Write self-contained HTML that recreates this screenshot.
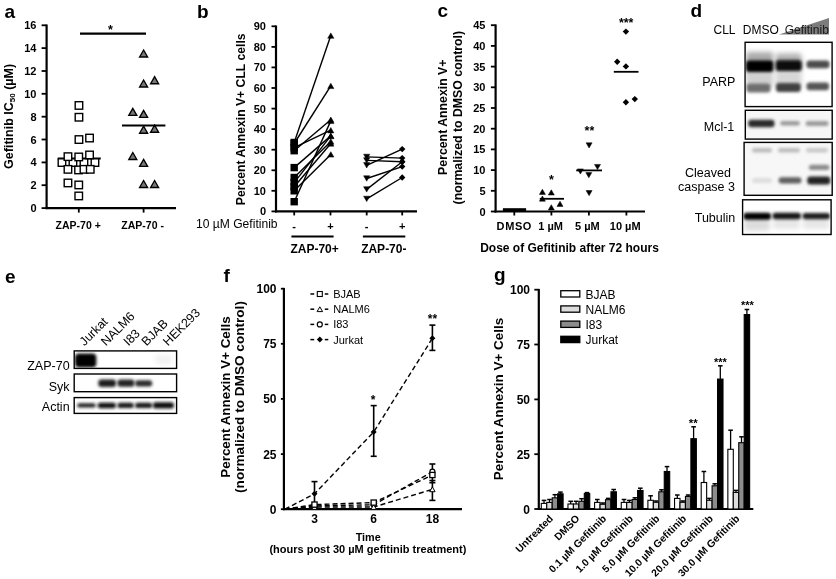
<!DOCTYPE html>
<html><head><meta charset="utf-8"><style>
html,body{margin:0;padding:0;background:#fff;}
svg{display:block;will-change:transform;}
text{font-family:"Liberation Sans", sans-serif;}
</style></head><body>
<svg width="836" height="579" viewBox="0 0 836 579" font-family='"Liberation Sans", sans-serif'>
<defs><filter id="bl" x="-30%" y="-80%" width="160%" height="260%"><feGaussianBlur stdDeviation="1.5"/></filter><filter id="bl2" x="-30%" y="-60%" width="160%" height="220%"><feGaussianBlur stdDeviation="2.5"/></filter></defs>
<rect width="836" height="579" fill="#fff"/>
<text x="4.5" y="17.5" font-size="19" font-weight="bold" text-anchor="start" fill="#000" >a</text>
<line x1="46.6" y1="24.5" x2="46.6" y2="209.1" stroke="#000" stroke-width="2.2" />
<line x1="41.6" y1="208.1" x2="46.6" y2="208.1" stroke="#000" stroke-width="1.8" />
<text x="36.5" y="212.1" font-size="11" font-weight="bold" text-anchor="end" fill="#000" >0</text>
<line x1="41.6" y1="185.2" x2="46.6" y2="185.2" stroke="#000" stroke-width="1.8" />
<text x="36.5" y="189.2" font-size="11" font-weight="bold" text-anchor="end" fill="#000" >2</text>
<line x1="41.6" y1="162.4" x2="46.6" y2="162.4" stroke="#000" stroke-width="1.8" />
<text x="36.5" y="166.4" font-size="11" font-weight="bold" text-anchor="end" fill="#000" >4</text>
<line x1="41.6" y1="139.5" x2="46.6" y2="139.5" stroke="#000" stroke-width="1.8" />
<text x="36.5" y="143.5" font-size="11" font-weight="bold" text-anchor="end" fill="#000" >6</text>
<line x1="41.6" y1="116.7" x2="46.6" y2="116.7" stroke="#000" stroke-width="1.8" />
<text x="36.5" y="120.7" font-size="11" font-weight="bold" text-anchor="end" fill="#000" >8</text>
<line x1="41.6" y1="93.8" x2="46.6" y2="93.8" stroke="#000" stroke-width="1.8" />
<text x="36.5" y="97.8" font-size="11" font-weight="bold" text-anchor="end" fill="#000" >10</text>
<line x1="41.6" y1="71.0" x2="46.6" y2="71.0" stroke="#000" stroke-width="1.8" />
<text x="36.5" y="75.0" font-size="11" font-weight="bold" text-anchor="end" fill="#000" >12</text>
<line x1="41.6" y1="48.1" x2="46.6" y2="48.1" stroke="#000" stroke-width="1.8" />
<text x="36.5" y="52.1" font-size="11" font-weight="bold" text-anchor="end" fill="#000" >14</text>
<line x1="41.6" y1="25.3" x2="46.6" y2="25.3" stroke="#000" stroke-width="1.8" />
<text x="36.5" y="29.3" font-size="11" font-weight="bold" text-anchor="end" fill="#000" >16</text>
<line x1="45.6" y1="208.1" x2="176.0" y2="208.1" stroke="#000" stroke-width="2.2" />
<line x1="78.8" y1="208.1" x2="78.8" y2="212.6" stroke="#000" stroke-width="1.8" />
<line x1="143.6" y1="208.1" x2="143.6" y2="212.6" stroke="#000" stroke-width="1.8" />
<text x="78.2" y="228.5" font-size="10.5" font-weight="bold" text-anchor="middle" fill="#000" >ZAP-70 +</text>
<text x="142.6" y="228.5" font-size="10.5" font-weight="bold" text-anchor="middle" fill="#000" >ZAP-70 -</text>
<line x1="80.0" y1="33.6" x2="146.0" y2="33.6" stroke="#000" stroke-width="2.2" />
<text x="110.5" y="34.0" font-size="12.5" font-weight="bold" text-anchor="middle" fill="#000" >*</text>
<text transform="translate(12.6 116.4) rotate(-90)" font-size="12.5" font-weight="bold" text-anchor="middle">Gefitinib IC<tspan font-size="8" dy="2.5">50</tspan><tspan dy="-2.5"> (µM)</tspan></text>
<line x1="57.8" y1="158.5" x2="100.8" y2="158.5" stroke="#000" stroke-width="1.8" />
<rect x="75.2" y="101.7" width="7.5" height="7.5" fill="#fff" stroke="#000" stroke-width="1.4"/>
<rect x="75.2" y="113.5" width="7.5" height="7.5" fill="#fff" stroke="#000" stroke-width="1.4"/>
<rect x="75.2" y="135.8" width="7.5" height="7.5" fill="#fff" stroke="#000" stroke-width="1.4"/>
<rect x="85.8" y="134.3" width="7.5" height="7.5" fill="#fff" stroke="#000" stroke-width="1.4"/>
<rect x="58.2" y="158.8" width="7.5" height="7.5" fill="#fff" stroke="#000" stroke-width="1.4"/>
<rect x="69.2" y="158.8" width="7.5" height="7.5" fill="#fff" stroke="#000" stroke-width="1.4"/>
<rect x="80.2" y="158.8" width="7.5" height="7.5" fill="#fff" stroke="#000" stroke-width="1.4"/>
<rect x="91.2" y="158.8" width="7.5" height="7.5" fill="#fff" stroke="#000" stroke-width="1.4"/>
<rect x="64.2" y="152.9" width="7.5" height="7.5" fill="#fff" stroke="#000" stroke-width="1.4"/>
<rect x="75.0" y="153.2" width="7.5" height="7.5" fill="#fff" stroke="#000" stroke-width="1.4"/>
<rect x="85.8" y="151.2" width="7.5" height="7.5" fill="#fff" stroke="#000" stroke-width="1.4"/>
<rect x="64.2" y="165.6" width="7.5" height="7.5" fill="#fff" stroke="#000" stroke-width="1.4"/>
<rect x="74.8" y="166.2" width="7.5" height="7.5" fill="#fff" stroke="#000" stroke-width="1.4"/>
<rect x="80.2" y="165.6" width="7.5" height="7.5" fill="#fff" stroke="#000" stroke-width="1.4"/>
<rect x="86.5" y="165.6" width="7.5" height="7.5" fill="#fff" stroke="#000" stroke-width="1.4"/>
<rect x="64.2" y="179.2" width="7.5" height="7.5" fill="#fff" stroke="#000" stroke-width="1.4"/>
<rect x="75.0" y="181.2" width="7.5" height="7.5" fill="#fff" stroke="#000" stroke-width="1.4"/>
<rect x="75.0" y="192.2" width="7.5" height="7.5" fill="#fff" stroke="#000" stroke-width="1.4"/>
<line x1="122.0" y1="125.5" x2="165.4" y2="125.5" stroke="#000" stroke-width="1.8" />
<polygon points="139.6,57.0 147.6,57.0 143.6,50.0" fill="#777" stroke="#000" stroke-width="1.35" stroke-linejoin="miter"/>
<polygon points="139.6,87.0 147.6,87.0 143.6,80.0" fill="#777" stroke="#000" stroke-width="1.35" stroke-linejoin="miter"/>
<polygon points="150.6,83.7 158.6,83.7 154.6,76.7" fill="#777" stroke="#000" stroke-width="1.35" stroke-linejoin="miter"/>
<polygon points="128.8,115.4 136.8,115.4 132.8,108.4" fill="#777" stroke="#000" stroke-width="1.35" stroke-linejoin="miter"/>
<polygon points="139.6,117.3 147.6,117.3 143.6,110.3" fill="#777" stroke="#000" stroke-width="1.35" stroke-linejoin="miter"/>
<polygon points="139.6,133.2 147.6,133.2 143.6,126.2" fill="#777" stroke="#000" stroke-width="1.35" stroke-linejoin="miter"/>
<polygon points="150.6,132.2 158.6,132.2 154.6,125.2" fill="#777" stroke="#000" stroke-width="1.35" stroke-linejoin="miter"/>
<polygon points="128.8,159.5 136.8,159.5 132.8,152.5" fill="#777" stroke="#000" stroke-width="1.35" stroke-linejoin="miter"/>
<polygon points="139.6,166.3 147.6,166.3 143.6,159.3" fill="#777" stroke="#000" stroke-width="1.35" stroke-linejoin="miter"/>
<polygon points="139.6,187.5 147.6,187.5 143.6,180.5" fill="#777" stroke="#000" stroke-width="1.35" stroke-linejoin="miter"/>
<polygon points="150.6,187.5 158.6,187.5 154.6,180.5" fill="#777" stroke="#000" stroke-width="1.35" stroke-linejoin="miter"/>
<text x="197.0" y="17.6" font-size="19" font-weight="bold" text-anchor="start" fill="#000" >b</text>
<line x1="276.0" y1="25.5" x2="276.0" y2="212.4" stroke="#000" stroke-width="2.2" />
<line x1="271.5" y1="211.4" x2="276.0" y2="211.4" stroke="#000" stroke-width="1.8" />
<text x="266.0" y="215.4" font-size="11" font-weight="bold" text-anchor="end" fill="#000" >0</text>
<line x1="271.5" y1="190.8" x2="276.0" y2="190.8" stroke="#000" stroke-width="1.8" />
<text x="266.0" y="194.8" font-size="11" font-weight="bold" text-anchor="end" fill="#000" >10</text>
<line x1="271.5" y1="170.3" x2="276.0" y2="170.3" stroke="#000" stroke-width="1.8" />
<text x="266.0" y="174.3" font-size="11" font-weight="bold" text-anchor="end" fill="#000" >20</text>
<line x1="271.5" y1="149.7" x2="276.0" y2="149.7" stroke="#000" stroke-width="1.8" />
<text x="266.0" y="153.7" font-size="11" font-weight="bold" text-anchor="end" fill="#000" >30</text>
<line x1="271.5" y1="129.1" x2="276.0" y2="129.1" stroke="#000" stroke-width="1.8" />
<text x="266.0" y="133.1" font-size="11" font-weight="bold" text-anchor="end" fill="#000" >40</text>
<line x1="271.5" y1="108.6" x2="276.0" y2="108.6" stroke="#000" stroke-width="1.8" />
<text x="266.0" y="112.6" font-size="11" font-weight="bold" text-anchor="end" fill="#000" >50</text>
<line x1="271.5" y1="88.0" x2="276.0" y2="88.0" stroke="#000" stroke-width="1.8" />
<text x="266.0" y="92.0" font-size="11" font-weight="bold" text-anchor="end" fill="#000" >60</text>
<line x1="271.5" y1="67.4" x2="276.0" y2="67.4" stroke="#000" stroke-width="1.8" />
<text x="266.0" y="71.4" font-size="11" font-weight="bold" text-anchor="end" fill="#000" >70</text>
<line x1="271.5" y1="46.9" x2="276.0" y2="46.9" stroke="#000" stroke-width="1.8" />
<text x="266.0" y="50.9" font-size="11" font-weight="bold" text-anchor="end" fill="#000" >80</text>
<line x1="271.5" y1="26.3" x2="276.0" y2="26.3" stroke="#000" stroke-width="1.8" />
<text x="266.0" y="30.3" font-size="11" font-weight="bold" text-anchor="end" fill="#000" >90</text>
<line x1="275.0" y1="211.4" x2="417.0" y2="211.4" stroke="#000" stroke-width="2.2" />
<line x1="294.2" y1="211.4" x2="294.2" y2="215.4" stroke="#000" stroke-width="1.8" />
<line x1="330.5" y1="211.4" x2="330.5" y2="215.4" stroke="#000" stroke-width="1.8" />
<line x1="366.7" y1="211.4" x2="366.7" y2="215.4" stroke="#000" stroke-width="1.8" />
<line x1="402.2" y1="211.4" x2="402.2" y2="215.4" stroke="#000" stroke-width="1.8" />
<text x="294.2" y="229.5" font-size="11" font-weight="bold" text-anchor="middle" fill="#000" >-</text>
<text x="330.5" y="229.5" font-size="11" font-weight="bold" text-anchor="middle" fill="#000" >+</text>
<text x="366.7" y="229.5" font-size="11" font-weight="bold" text-anchor="middle" fill="#000" >-</text>
<text x="402.2" y="229.5" font-size="11" font-weight="bold" text-anchor="middle" fill="#000" >+</text>
<line x1="291.4" y1="236.5" x2="333.6" y2="236.5" stroke="#000" stroke-width="2.2" />
<line x1="362.9" y1="236.5" x2="405.3" y2="236.5" stroke="#000" stroke-width="2.2" />
<text x="314.6" y="252.6" font-size="12" font-weight="bold" text-anchor="middle" fill="#000" >ZAP-70+</text>
<text x="383.8" y="252.6" font-size="12" font-weight="bold" text-anchor="middle" fill="#000" >ZAP-70-</text>
<text x="196.0" y="227.8" font-size="12.1" font-weight="normal" text-anchor="start" fill="#000" >10 µM Gefitinib</text>
<text transform="translate(244.6 119.3) rotate(-90)" font-size="12.2" font-weight="bold" text-anchor="middle">Percent Annexin V+ CLL cells</text>
<line x1="294.2" y1="142.5" x2="330.8" y2="35.6" stroke="#000" stroke-width="1.4" />
<line x1="294.2" y1="143.5" x2="330.8" y2="85.9" stroke="#000" stroke-width="1.4" />
<line x1="294.2" y1="147.6" x2="330.8" y2="130.2" stroke="#000" stroke-width="1.4" />
<line x1="294.2" y1="150.7" x2="330.8" y2="119.7" stroke="#000" stroke-width="1.4" />
<line x1="294.2" y1="167.6" x2="330.8" y2="135.9" stroke="#000" stroke-width="1.4" />
<line x1="294.2" y1="177.5" x2="330.8" y2="141.5" stroke="#000" stroke-width="1.4" />
<line x1="294.2" y1="182.6" x2="330.8" y2="135.9" stroke="#000" stroke-width="1.4" />
<line x1="294.2" y1="186.7" x2="330.8" y2="143.5" stroke="#000" stroke-width="1.4" />
<line x1="294.2" y1="190.8" x2="330.8" y2="154.4" stroke="#000" stroke-width="1.4" />
<line x1="294.2" y1="201.7" x2="330.8" y2="120.9" stroke="#000" stroke-width="1.4" />
<rect x="290.5" y="138.8" width="7.4" height="7.4" fill="#000"/>
<rect x="290.5" y="139.8" width="7.4" height="7.4" fill="#000"/>
<rect x="290.5" y="143.9" width="7.4" height="7.4" fill="#000"/>
<rect x="290.5" y="147.0" width="7.4" height="7.4" fill="#000"/>
<rect x="290.5" y="163.9" width="7.4" height="7.4" fill="#000"/>
<rect x="290.5" y="173.8" width="7.4" height="7.4" fill="#000"/>
<rect x="290.5" y="178.9" width="7.4" height="7.4" fill="#000"/>
<rect x="290.5" y="183.0" width="7.4" height="7.4" fill="#000"/>
<rect x="290.5" y="187.1" width="7.4" height="7.4" fill="#000"/>
<rect x="290.5" y="198.0" width="7.4" height="7.4" fill="#000"/>
<polygon points="327.7,38.3 333.9,38.3 330.8,32.9" fill="#000" stroke="#000" stroke-width="0.5" stroke-linejoin="miter"/>
<polygon points="327.7,88.6 333.9,88.6 330.8,83.2" fill="#000" stroke="#000" stroke-width="0.5" stroke-linejoin="miter"/>
<polygon points="327.7,132.9 333.9,132.9 330.8,127.5" fill="#000" stroke="#000" stroke-width="0.5" stroke-linejoin="miter"/>
<polygon points="327.7,122.4 333.9,122.4 330.8,117.0" fill="#000" stroke="#000" stroke-width="0.5" stroke-linejoin="miter"/>
<polygon points="327.7,138.6 333.9,138.6 330.8,133.2" fill="#000" stroke="#000" stroke-width="0.5" stroke-linejoin="miter"/>
<polygon points="327.7,144.2 333.9,144.2 330.8,138.8" fill="#000" stroke="#000" stroke-width="0.5" stroke-linejoin="miter"/>
<polygon points="327.7,138.6 333.9,138.6 330.8,133.2" fill="#000" stroke="#000" stroke-width="0.5" stroke-linejoin="miter"/>
<polygon points="327.7,146.2 333.9,146.2 330.8,140.8" fill="#000" stroke="#000" stroke-width="0.5" stroke-linejoin="miter"/>
<polygon points="327.7,157.1 333.9,157.1 330.8,151.7" fill="#000" stroke="#000" stroke-width="0.5" stroke-linejoin="miter"/>
<polygon points="327.7,123.6 333.9,123.6 330.8,118.2" fill="#000" stroke="#000" stroke-width="0.5" stroke-linejoin="miter"/>
<line x1="366.7" y1="156.9" x2="402.2" y2="158.1" stroke="#000" stroke-width="1.4" />
<line x1="366.7" y1="160.4" x2="402.2" y2="161.8" stroke="#000" stroke-width="1.4" />
<line x1="366.7" y1="165.3" x2="402.2" y2="149.1" stroke="#000" stroke-width="1.4" />
<line x1="366.7" y1="178.5" x2="402.2" y2="166.6" stroke="#000" stroke-width="1.4" />
<line x1="366.7" y1="189.4" x2="402.2" y2="161.8" stroke="#000" stroke-width="1.4" />
<line x1="366.7" y1="198.9" x2="402.2" y2="177.5" stroke="#000" stroke-width="1.4" />
<polygon points="363.6,154.2 369.8,154.2 366.7,159.6" fill="#000" stroke="#000" stroke-width="0.5" stroke-linejoin="miter"/>
<polygon points="363.6,157.7 369.8,157.7 366.7,163.1" fill="#000" stroke="#000" stroke-width="0.5" stroke-linejoin="miter"/>
<polygon points="363.6,162.6 369.8,162.6 366.7,168.0" fill="#000" stroke="#000" stroke-width="0.5" stroke-linejoin="miter"/>
<polygon points="363.6,175.8 369.8,175.8 366.7,181.2" fill="#000" stroke="#000" stroke-width="0.5" stroke-linejoin="miter"/>
<polygon points="363.6,186.7 369.8,186.7 366.7,192.1" fill="#000" stroke="#000" stroke-width="0.5" stroke-linejoin="miter"/>
<polygon points="363.6,196.2 369.8,196.2 366.7,201.6" fill="#000" stroke="#000" stroke-width="0.5" stroke-linejoin="miter"/>
<polygon points="402.2,154.9 405.4,158.1 402.2,161.3 399.0,158.1" fill="#000"/>
<polygon points="402.2,158.6 405.4,161.8 402.2,165.0 399.0,161.8" fill="#000"/>
<polygon points="402.2,145.9 405.4,149.1 402.2,152.3 399.0,149.1" fill="#000"/>
<polygon points="402.2,163.4 405.4,166.6 402.2,169.8 399.0,166.6" fill="#000"/>
<polygon points="402.2,158.6 405.4,161.8 402.2,165.0 399.0,161.8" fill="#000"/>
<polygon points="402.2,174.3 405.4,177.5 402.2,180.7 399.0,177.5" fill="#000"/>
<text x="437.5" y="16.8" font-size="19" font-weight="bold" text-anchor="start" fill="#000" >c</text>
<line x1="495.6" y1="24.4" x2="495.6" y2="212.5" stroke="#000" stroke-width="2.2" />
<line x1="490.9" y1="211.5" x2="495.6" y2="211.5" stroke="#000" stroke-width="1.8" />
<text x="485.5" y="215.5" font-size="11" font-weight="bold" text-anchor="end" fill="#000" >0</text>
<line x1="490.9" y1="190.8" x2="495.6" y2="190.8" stroke="#000" stroke-width="1.8" />
<text x="485.5" y="194.8" font-size="11" font-weight="bold" text-anchor="end" fill="#000" >5</text>
<line x1="490.9" y1="170.1" x2="495.6" y2="170.1" stroke="#000" stroke-width="1.8" />
<text x="485.5" y="174.1" font-size="11" font-weight="bold" text-anchor="end" fill="#000" >10</text>
<line x1="490.9" y1="149.4" x2="495.6" y2="149.4" stroke="#000" stroke-width="1.8" />
<text x="485.5" y="153.4" font-size="11" font-weight="bold" text-anchor="end" fill="#000" >15</text>
<line x1="490.9" y1="128.7" x2="495.6" y2="128.7" stroke="#000" stroke-width="1.8" />
<text x="485.5" y="132.7" font-size="11" font-weight="bold" text-anchor="end" fill="#000" >20</text>
<line x1="490.9" y1="108.0" x2="495.6" y2="108.0" stroke="#000" stroke-width="1.8" />
<text x="485.5" y="112.0" font-size="11" font-weight="bold" text-anchor="end" fill="#000" >25</text>
<line x1="490.9" y1="87.3" x2="495.6" y2="87.3" stroke="#000" stroke-width="1.8" />
<text x="485.5" y="91.3" font-size="11" font-weight="bold" text-anchor="end" fill="#000" >30</text>
<line x1="490.9" y1="66.6" x2="495.6" y2="66.6" stroke="#000" stroke-width="1.8" />
<text x="485.5" y="70.6" font-size="11" font-weight="bold" text-anchor="end" fill="#000" >35</text>
<line x1="490.9" y1="45.9" x2="495.6" y2="45.9" stroke="#000" stroke-width="1.8" />
<text x="485.5" y="49.9" font-size="11" font-weight="bold" text-anchor="end" fill="#000" >40</text>
<line x1="490.9" y1="25.2" x2="495.6" y2="25.2" stroke="#000" stroke-width="1.8" />
<text x="485.5" y="29.2" font-size="11" font-weight="bold" text-anchor="end" fill="#000" >45</text>
<line x1="494.6" y1="211.5" x2="645.0" y2="211.5" stroke="#000" stroke-width="2.2" />
<line x1="514.3" y1="211.5" x2="514.3" y2="215.5" stroke="#000" stroke-width="1.8" />
<text x="514.3" y="229.5" font-size="11" font-weight="bold" text-anchor="middle" fill="#000" letter-spacing="0.6">DMSO</text>
<line x1="551.4" y1="211.5" x2="551.4" y2="215.5" stroke="#000" stroke-width="1.8" />
<text x="550.6" y="229.5" font-size="11" font-weight="bold" text-anchor="middle" fill="#000" >1 µM</text>
<line x1="588.9" y1="211.5" x2="588.9" y2="215.5" stroke="#000" stroke-width="1.8" />
<text x="587.4" y="229.5" font-size="11" font-weight="bold" text-anchor="middle" fill="#000" >5 µM</text>
<line x1="626.4" y1="211.5" x2="626.4" y2="215.5" stroke="#000" stroke-width="1.8" />
<text x="625.2" y="229.5" font-size="11" font-weight="bold" text-anchor="middle" fill="#000" >10 µM</text>
<text x="569.5" y="252.0" font-size="12" font-weight="bold" text-anchor="middle" fill="#000" >Dose of Gefitinib after 72 hours</text>
<text transform="translate(447.2 117.2) rotate(-90)" font-size="12.3" font-weight="bold" text-anchor="middle">Percent Annexin V+</text>
<text transform="translate(461.8 117.7) rotate(-90)" font-size="12.3" font-weight="bold" text-anchor="middle">(normalized to DMSO control)</text>
<rect x="502.9" y="208.2" width="23.2" height="3.4" fill="#000"/>
<polygon points="539.4,194.4 545.4,194.4 542.4,189.2" fill="#000" stroke="#000" stroke-width="0.5" stroke-linejoin="miter"/>
<polygon points="548.3,195.0 554.3,195.0 551.3,189.8" fill="#000" stroke="#000" stroke-width="0.5" stroke-linejoin="miter"/>
<polygon points="539.4,201.2 545.4,201.2 542.4,196.0" fill="#000" stroke="#000" stroke-width="0.5" stroke-linejoin="miter"/>
<polygon points="557.0,206.4 563.0,206.4 560.0,201.2" fill="#000" stroke="#000" stroke-width="0.5" stroke-linejoin="miter"/>
<polygon points="548.3,209.9 554.3,209.9 551.3,204.7" fill="#000" stroke="#000" stroke-width="0.5" stroke-linejoin="miter"/>
<line x1="539.8" y1="198.8" x2="564.0" y2="198.8" stroke="#000" stroke-width="1.8" />
<text x="551.4" y="183.6" font-size="12.5" font-weight="bold" text-anchor="middle" fill="#000" >*</text>
<polygon points="586.1,142.8 592.1,142.8 589.1,148.0" fill="#000" stroke="#000" stroke-width="0.5" stroke-linejoin="miter"/>
<polygon points="577.4,168.9 583.4,168.9 580.4,174.1" fill="#000" stroke="#000" stroke-width="0.5" stroke-linejoin="miter"/>
<polygon points="585.8,172.6 591.8,172.6 588.8,177.8" fill="#000" stroke="#000" stroke-width="0.5" stroke-linejoin="miter"/>
<polygon points="594.5,164.4 600.5,164.4 597.5,169.6" fill="#000" stroke="#000" stroke-width="0.5" stroke-linejoin="miter"/>
<polygon points="586.1,190.5 592.1,190.5 589.1,195.7" fill="#000" stroke="#000" stroke-width="0.5" stroke-linejoin="miter"/>
<line x1="576.2" y1="170.4" x2="602.0" y2="170.4" stroke="#000" stroke-width="1.8" />
<text x="589.4" y="134.7" font-size="12.5" font-weight="bold" text-anchor="middle" fill="#000" >**</text>
<polygon points="625.9,28.4 629.1,31.6 625.9,34.8 622.7,31.6" fill="#000"/>
<polygon points="617.2,58.6 620.4,61.8 617.2,65.0 614.0,61.8" fill="#000"/>
<polygon points="625.9,63.2 629.1,66.4 625.9,69.6 622.7,66.4" fill="#000"/>
<polygon points="625.9,99.0 629.1,102.2 625.9,105.4 622.7,102.2" fill="#000"/>
<polygon points="634.8,95.9 638.0,99.1 634.8,102.3 631.6,99.1" fill="#000"/>
<line x1="613.8" y1="71.8" x2="638.5" y2="71.8" stroke="#000" stroke-width="1.8" />
<text x="626.2" y="27.2" font-size="12.5" font-weight="bold" text-anchor="middle" fill="#000" >***</text>
<text x="690.5" y="17.0" font-size="19" font-weight="bold" text-anchor="start" fill="#000" >d</text>
<text x="724.5" y="34.0" font-size="12" font-weight="normal" text-anchor="middle" fill="#000" >CLL</text>
<text x="760.8" y="34.0" font-size="12" font-weight="normal" text-anchor="middle" fill="#000" >DMSO</text>
<polygon points="779,34.5 829,34.5 829,18" fill="#7c7c7c"/>
<text x="806.8" y="34.0" font-size="12" font-weight="normal" text-anchor="middle" fill="#1a1a1a" >Gefitinib</text>
<rect x="745.1" y="42.3" width="87.0" height="64.3" fill="#fff" stroke="#000" stroke-width="1.4"/>
<clipPath id="c1"><rect x="745.8" y="43.0" width="85.6" height="62.9"/></clipPath><g clip-path="url(#c1)">
<rect x="746.0" y="52.0" width="27.3" height="20.0" rx="3" fill="#aaa" filter="url(#bl2)"/>
<rect x="775.7" y="53.5" width="26.0" height="17.5" rx="3" fill="#b0b0b0" filter="url(#bl2)"/>
<rect x="746.0" y="70.0" width="27.3" height="17.0" rx="3" fill="#d0d0d0" filter="url(#bl2)"/>
<rect x="775.7" y="70.0" width="26.0" height="17.0" rx="3" fill="#d6d6d6" filter="url(#bl2)"/>
<rect x="746.0" y="60.6" width="27.3" height="11.4" rx="3" fill="#050505" filter="url(#bl)"/>
<rect x="775.7" y="60.2" width="26.0" height="10.8" rx="3" fill="#080808" filter="url(#bl)"/>
<rect x="806.5" y="60.6" width="23.0" height="7.7" rx="3" fill="#4c4c4c" filter="url(#bl)"/>
<rect x="746.5" y="83.6" width="24.0" height="9.0" rx="3" fill="#6e6e6e" filter="url(#bl)"/>
<rect x="776.0" y="83.0" width="24.8" height="9.0" rx="3" fill="#404040" filter="url(#bl)"/>
<rect x="806.5" y="82.6" width="22.5" height="7.6" rx="3" fill="#555" filter="url(#bl)"/>
</g>
<text x="718.8" y="86.0" font-size="12.5" font-weight="normal" text-anchor="middle" fill="#000" >PARP</text>
<rect x="745.3" y="110.3" width="86.9" height="28.8" fill="#f6f6f6" stroke="#000" stroke-width="1.4"/>
<clipPath id="c2"><rect x="746.0" y="111.0" width="85.5" height="27.4"/></clipPath><g clip-path="url(#c2)">
<rect x="748.2" y="119.8" width="26.3" height="7.4" rx="3" fill="#2a2a2a" filter="url(#bl)"/>
<rect x="780.2" y="121.0" width="19.7" height="4.5" rx="2.25" fill="#999" filter="url(#bl)"/>
<rect x="805.6" y="121.0" width="23.0" height="5.0" rx="2.5" fill="#9a9a9a" filter="url(#bl)"/>
</g>
<text x="719.0" y="131.0" font-size="12.5" font-weight="normal" text-anchor="middle" fill="#000" >Mcl-1</text>
<rect x="744.1" y="142.4" width="88.1" height="52.9" fill="#f7f7f7" stroke="#000" stroke-width="1.4"/>
<clipPath id="c3"><rect x="744.8" y="143.1" width="86.7" height="51.5"/></clipPath><g clip-path="url(#c3)">
<rect x="752.0" y="148.0" width="20.0" height="4.5" rx="2.25" fill="#bbb" filter="url(#bl)"/>
<rect x="778.0" y="148.0" width="22.0" height="4.5" rx="2.25" fill="#bbb" filter="url(#bl)"/>
<rect x="806.0" y="148.0" width="22.0" height="4.5" rx="2.25" fill="#c8c8c8" filter="url(#bl)"/>
<rect x="808.9" y="164.8" width="20.5" height="5.2" rx="2.5999999999999943" fill="#8a8a8a" filter="url(#bl)"/>
<rect x="752.0" y="178.0" width="20.0" height="5.0" rx="2.5" fill="#ddd" filter="url(#bl)"/>
<rect x="778.6" y="177.3" width="22.9" height="6.2" rx="3" fill="#5e5e5e" filter="url(#bl)"/>
<rect x="807.3" y="176.5" width="23.0" height="8.0" rx="3" fill="#202020" filter="url(#bl)"/>
</g>
<text x="708.0" y="177.0" font-size="12.5" font-weight="normal" text-anchor="middle" fill="#000" >Cleaved</text>
<text x="706.5" y="191.2" font-size="12.5" font-weight="normal" text-anchor="middle" fill="#000" >caspase 3</text>
<rect x="742.6" y="199.8" width="88.5" height="34.7" fill="#fff" stroke="#000" stroke-width="1.4"/>
<clipPath id="c4"><rect x="743.3" y="200.5" width="87.1" height="33.3"/></clipPath><g clip-path="url(#c4)">
<rect x="744.0" y="218.0" width="26.0" height="13.0" rx="3" fill="#ddd" filter="url(#bl2)"/>
<rect x="773.0" y="218.0" width="27.0" height="11.0" rx="3" fill="#e6e6e6" filter="url(#bl2)"/>
<rect x="803.0" y="218.0" width="26.3" height="11.0" rx="3" fill="#e6e6e6" filter="url(#bl2)"/>
<rect x="743.5" y="212.8" width="27.5" height="7.0" rx="3" fill="#060606" filter="url(#bl)"/>
<rect x="772.5" y="212.8" width="28.5" height="6.4" rx="3" fill="#161616" filter="url(#bl)"/>
<rect x="802.5" y="213.0" width="27.5" height="6.2" rx="3" fill="#1a1a1a" filter="url(#bl)"/>
</g>
<text x="715.0" y="222.0" font-size="12.5" font-weight="normal" text-anchor="middle" fill="#000" >Tubulin</text>
<text x="5.0" y="283.2" font-size="19" font-weight="bold" text-anchor="start" fill="#000" >e</text>
<rect x="74.2" y="350.9" width="102.4" height="17.5" fill="#fff" stroke="#000" stroke-width="1.4"/>
<clipPath id="c5"><rect x="74.9" y="351.6" width="101.0" height="16.1"/></clipPath><g clip-path="url(#c5)">
<rect x="75.0" y="353.6" width="21.3" height="14.0" rx="4" fill="#000" filter="url(#bl)"/>
<rect x="155.0" y="355.0" width="17.0" height="9.0" rx="3" fill="#f0f0f0" filter="url(#bl2)"/>
</g>
<rect x="74.2" y="374.0" width="102.4" height="17.7" fill="#fff" stroke="#000" stroke-width="1.4"/>
<clipPath id="c6"><rect x="74.9" y="374.7" width="101.0" height="16.3"/></clipPath><g clip-path="url(#c6)">
<rect x="98.3" y="379.5" width="17.7" height="7.6" rx="3" fill="#1c1c1c" filter="url(#bl)"/>
<rect x="117.4" y="379.5" width="17.1" height="7.3" rx="3" fill="#202020" filter="url(#bl)"/>
<rect x="135.1" y="380.3" width="17.1" height="6.3" rx="3" fill="#2c2c2c" filter="url(#bl)"/>
</g>
<rect x="74.2" y="397.6" width="102.4" height="15.8" fill="#fff" stroke="#000" stroke-width="1.4"/>
<clipPath id="c7"><rect x="74.9" y="398.3" width="101.0" height="14.4"/></clipPath><g clip-path="url(#c7)">
<rect x="77.2" y="403.2" width="18.5" height="4.4" rx="2.200000000000017" fill="#222" filter="url(#bl)"/>
<rect x="97.6" y="402.8" width="18.4" height="5.4" rx="2.6999999999999886" fill="#111" filter="url(#bl)"/>
<rect x="117.4" y="402.8" width="16.4" height="5.2" rx="2.5999999999999943" fill="#161616" filter="url(#bl)"/>
<rect x="135.1" y="402.8" width="17.1" height="5.2" rx="2.5999999999999943" fill="#161616" filter="url(#bl)"/>
<rect x="152.9" y="402.3" width="21.1" height="6.3" rx="3" fill="#0e0e0e" filter="url(#bl)"/>
</g>
<text x="69.6" y="369.8" font-size="12.5" font-weight="normal" text-anchor="end" fill="#000" >ZAP-70</text>
<text x="69.6" y="390.5" font-size="12.5" font-weight="normal" text-anchor="end" fill="#000" >Syk</text>
<text x="69.6" y="411.0" font-size="12.5" font-weight="normal" text-anchor="end" fill="#000" >Actin</text>
<text x="84.5" y="346.5" font-size="12.5" font-weight="normal" text-anchor="start" fill="#000" transform="rotate(-45 84.5 346.5)" >Jurkat</text>
<text x="106.0" y="346.5" font-size="12.5" font-weight="normal" text-anchor="start" fill="#000" transform="rotate(-45 106.0 346.5)" >NALM6</text>
<text x="128.5" y="346.5" font-size="12.5" font-weight="normal" text-anchor="start" fill="#000" transform="rotate(-45 128.5 346.5)" >I83</text>
<text x="146.5" y="346.5" font-size="12.5" font-weight="normal" text-anchor="start" fill="#000" transform="rotate(-45 146.5 346.5)" >BJAB</text>
<text x="168.0" y="346.5" font-size="12.5" font-weight="normal" text-anchor="start" fill="#000" transform="rotate(-45 168.0 346.5)" >HEK293</text>
<text x="223.5" y="282.4" font-size="19" font-weight="bold" text-anchor="start" fill="#000" >f</text>
<line x1="283.9" y1="287.9" x2="283.9" y2="510.2" stroke="#000" stroke-width="2.2" />
<line x1="280.9" y1="509.2" x2="283.9" y2="509.2" stroke="#000" stroke-width="1.8" />
<text x="276.5" y="513.7" font-size="12" font-weight="bold" text-anchor="end" fill="#000" >0</text>
<line x1="280.9" y1="454.1" x2="283.9" y2="454.1" stroke="#000" stroke-width="1.8" />
<text x="276.5" y="458.6" font-size="12" font-weight="bold" text-anchor="end" fill="#000" >25</text>
<line x1="280.9" y1="398.9" x2="283.9" y2="398.9" stroke="#000" stroke-width="1.8" />
<text x="276.5" y="403.4" font-size="12" font-weight="bold" text-anchor="end" fill="#000" >50</text>
<line x1="280.9" y1="343.8" x2="283.9" y2="343.8" stroke="#000" stroke-width="1.8" />
<text x="276.5" y="348.3" font-size="12" font-weight="bold" text-anchor="end" fill="#000" >75</text>
<line x1="280.9" y1="288.7" x2="283.9" y2="288.7" stroke="#000" stroke-width="1.8" />
<text x="276.5" y="293.2" font-size="12" font-weight="bold" text-anchor="end" fill="#000" >100</text>
<line x1="282.9" y1="509.2" x2="462.0" y2="509.2" stroke="#000" stroke-width="2.2" />
<text x="314.5" y="522.6" font-size="12" font-weight="bold" text-anchor="middle" fill="#000" >3</text>
<text x="373.7" y="522.6" font-size="12" font-weight="bold" text-anchor="middle" fill="#000" >6</text>
<text x="432.4" y="522.6" font-size="12" font-weight="bold" text-anchor="middle" fill="#000" >18</text>
<text x="368.2" y="540.6" font-size="10.8" font-weight="bold" text-anchor="middle" fill="#000" >Time</text>
<text x="367.9" y="552.6" font-size="11" font-weight="bold" text-anchor="middle" fill="#000" >(hours post 30 µM gefitinib treatment)</text>
<text transform="translate(229.6 397) rotate(-90)" font-size="13.4" font-weight="bold" text-anchor="middle">Percent Annexin V+ Cells</text>
<text transform="translate(243.6 397) rotate(-90)" font-size="13.6" font-weight="bold" text-anchor="middle">(normalized to DMSO control)</text>
<polyline points="284.9,509.2 314.5,493.8 373.7,432.0 432.4,338.3" fill="none" stroke="#000" stroke-width="1.4" stroke-dasharray="5,3"/>
<polyline points="284.9,509.2 314.5,504.6 373.7,502.6 432.4,475.0" fill="none" stroke="#000" stroke-width="1.4" stroke-dasharray="5,3"/>
<polyline points="284.9,509.2 314.5,507.0 373.7,507.0 432.4,489.4" fill="none" stroke="#000" stroke-width="1.4" stroke-dasharray="5,3"/>
<polyline points="284.9,509.2 314.5,505.9 373.7,504.8 432.4,471.7" fill="none" stroke="#000" stroke-width="1.4" stroke-dasharray="5,3"/>
<line x1="314.5" y1="481.6" x2="314.5" y2="505.9" stroke="#000" stroke-width="1.6" />
<line x1="311.5" y1="481.6" x2="317.5" y2="481.6" stroke="#000" stroke-width="1.6" />
<line x1="311.5" y1="505.9" x2="317.5" y2="505.9" stroke="#000" stroke-width="1.6" />
<line x1="373.7" y1="405.6" x2="373.7" y2="456.3" stroke="#000" stroke-width="1.6" />
<line x1="370.7" y1="405.6" x2="376.7" y2="405.6" stroke="#000" stroke-width="1.6" />
<line x1="370.7" y1="456.3" x2="376.7" y2="456.3" stroke="#000" stroke-width="1.6" />
<line x1="432.4" y1="325.1" x2="432.4" y2="350.4" stroke="#000" stroke-width="1.6" />
<line x1="429.4" y1="325.1" x2="435.4" y2="325.1" stroke="#000" stroke-width="1.6" />
<line x1="429.4" y1="350.4" x2="435.4" y2="350.4" stroke="#000" stroke-width="1.6" />
<line x1="432.4" y1="480.5" x2="432.4" y2="500.4" stroke="#000" stroke-width="1.6" />
<line x1="429.4" y1="480.5" x2="435.4" y2="480.5" stroke="#000" stroke-width="1.6" />
<line x1="429.4" y1="500.4" x2="435.4" y2="500.4" stroke="#000" stroke-width="1.6" />
<line x1="432.4" y1="464.0" x2="432.4" y2="482.7" stroke="#000" stroke-width="1.6" />
<line x1="429.4" y1="464.0" x2="435.4" y2="464.0" stroke="#000" stroke-width="1.6" />
<line x1="429.4" y1="482.7" x2="435.4" y2="482.7" stroke="#000" stroke-width="1.6" />
<circle cx="314.5" cy="505.9" r="2.5" fill="#fff" stroke="#000" stroke-width="1.2"/>
<circle cx="373.7" cy="504.8" r="2.5" fill="#fff" stroke="#000" stroke-width="1.2"/>
<circle cx="432.4" cy="471.7" r="2.5" fill="#fff" stroke="#000" stroke-width="1.2"/>
<polygon points="311.8,509.4 317.2,509.4 314.5,504.6" fill="#fff" stroke="#000" stroke-width="1" stroke-linejoin="miter"/>
<polygon points="370.9,509.4 376.4,509.4 373.7,504.6" fill="#fff" stroke="#000" stroke-width="1" stroke-linejoin="miter"/>
<polygon points="429.6,491.7 435.1,491.7 432.4,487.0" fill="#fff" stroke="#000" stroke-width="1" stroke-linejoin="miter"/>
<rect x="311.9" y="502.0" width="5.2" height="5.2" fill="#fff" stroke="#000" stroke-width="1.3"/>
<rect x="371.1" y="500.0" width="5.2" height="5.2" fill="#fff" stroke="#000" stroke-width="1.3"/>
<rect x="429.8" y="472.4" width="5.2" height="5.2" fill="#fff" stroke="#000" stroke-width="1.3"/>
<polygon points="314.5,490.8 317.5,493.8 314.5,496.8 311.5,493.8" fill="#000"/>
<polygon points="373.7,429.0 376.7,432.0 373.7,435.0 370.7,432.0" fill="#000"/>
<polygon points="432.4,335.3 435.4,338.3 432.4,341.3 429.4,338.3" fill="#000"/>
<text x="373.2" y="403.9" font-size="12" font-weight="bold" text-anchor="middle" fill="#000" >*</text>
<text x="432.5" y="322.9" font-size="12" font-weight="bold" text-anchor="middle" fill="#000" >**</text>
<line x1="310.4" y1="294.0" x2="314.2" y2="294.0" stroke="#000" stroke-width="1.5" />
<line x1="324.8" y1="294.0" x2="328.3" y2="294.0" stroke="#000" stroke-width="1.5" />
<rect x="317.3" y="291.5" width="5" height="5" fill="#fff" stroke="#000" stroke-width="1.1"/>
<text x="333.2" y="298.0" font-size="11" font-weight="normal" text-anchor="start" fill="#000" >BJAB</text>
<line x1="310.4" y1="309.2" x2="314.2" y2="309.2" stroke="#000" stroke-width="1.5" />
<line x1="324.8" y1="309.2" x2="328.3" y2="309.2" stroke="#000" stroke-width="1.5" />
<polygon points="317.1,311.6 322.6,311.6 319.8,306.8" fill="#fff" stroke="#000" stroke-width="1" stroke-linejoin="miter"/>
<text x="333.2" y="313.2" font-size="11" font-weight="normal" text-anchor="start" fill="#000" >NALM6</text>
<line x1="310.4" y1="324.4" x2="314.2" y2="324.4" stroke="#000" stroke-width="1.5" />
<line x1="324.8" y1="324.4" x2="328.3" y2="324.4" stroke="#000" stroke-width="1.5" />
<circle cx="319.8" cy="324.4" r="2.5" fill="#fff" stroke="#000" stroke-width="1.2"/>
<text x="333.2" y="328.4" font-size="11" font-weight="normal" text-anchor="start" fill="#000" >I83</text>
<line x1="310.4" y1="339.6" x2="314.2" y2="339.6" stroke="#000" stroke-width="1.5" />
<line x1="324.8" y1="339.6" x2="328.3" y2="339.6" stroke="#000" stroke-width="1.5" />
<polygon points="319.8,336.6 322.8,339.6 319.8,342.6 316.8,339.6" fill="#000"/>
<text x="333.2" y="343.6" font-size="11" font-weight="normal" text-anchor="start" fill="#000" >Jurkat</text>
<text x="494.0" y="280.5" font-size="19" font-weight="bold" text-anchor="start" fill="#000" >g</text>
<line x1="538.8" y1="288.9" x2="538.8" y2="510.0" stroke="#000" stroke-width="2.2" />
<line x1="534.3" y1="509.0" x2="538.8" y2="509.0" stroke="#000" stroke-width="1.8" />
<text x="530.0" y="513.5" font-size="12" font-weight="bold" text-anchor="end" fill="#000" >0</text>
<line x1="534.3" y1="454.2" x2="538.8" y2="454.2" stroke="#000" stroke-width="1.8" />
<text x="530.0" y="458.7" font-size="12" font-weight="bold" text-anchor="end" fill="#000" >25</text>
<line x1="534.3" y1="399.4" x2="538.8" y2="399.4" stroke="#000" stroke-width="1.8" />
<text x="530.0" y="403.9" font-size="12" font-weight="bold" text-anchor="end" fill="#000" >50</text>
<line x1="534.3" y1="344.5" x2="538.8" y2="344.5" stroke="#000" stroke-width="1.8" />
<text x="530.0" y="349.0" font-size="12" font-weight="bold" text-anchor="end" fill="#000" >75</text>
<line x1="534.3" y1="289.7" x2="538.8" y2="289.7" stroke="#000" stroke-width="1.8" />
<text x="530.0" y="294.2" font-size="12" font-weight="bold" text-anchor="end" fill="#000" >100</text>
<line x1="537.8" y1="509.0" x2="753.3" y2="509.0" stroke="#000" stroke-width="2.2" />
<text transform="translate(502.7 399) rotate(-90)" font-size="13.5" font-weight="bold" text-anchor="middle">Percent Annexin V+ Cells</text>
<rect x="560.8" y="290.7" width="19" height="6.3" fill="#fff" stroke="#000" stroke-width="1.3"/>
<text x="585.5" y="298.5" font-size="12" font-weight="normal" text-anchor="start" fill="#000" >BJAB</text>
<rect x="560.8" y="305.9" width="19" height="6.3" fill="#dcdcdc" stroke="#000" stroke-width="1.3"/>
<text x="585.5" y="313.7" font-size="12" font-weight="normal" text-anchor="start" fill="#000" >NALM6</text>
<rect x="560.8" y="321.1" width="19" height="6.3" fill="#8c8c8c" stroke="#000" stroke-width="1.3"/>
<text x="585.5" y="328.9" font-size="12" font-weight="normal" text-anchor="start" fill="#000" >I83</text>
<rect x="560.8" y="336.3" width="19" height="6.3" fill="#000" stroke="#000" stroke-width="1.3"/>
<text x="585.5" y="344.1" font-size="12" font-weight="normal" text-anchor="start" fill="#000" >Jurkat</text>
<line x1="544.0" y1="500.4" x2="544.0" y2="503.4" stroke="#000" stroke-width="1.3" />
<line x1="541.7" y1="500.4" x2="546.3" y2="500.4" stroke="#000" stroke-width="1.5" />
<rect x="541.30" y="503.4" width="5.45" height="5.6" fill="#fff" stroke="#000" stroke-width="1.1"/>
<line x1="549.5" y1="499.5" x2="549.5" y2="502.4" stroke="#000" stroke-width="1.3" />
<line x1="547.2" y1="499.5" x2="551.8" y2="499.5" stroke="#000" stroke-width="1.5" />
<rect x="546.75" y="502.4" width="5.45" height="6.6" fill="#dcdcdc" stroke="#000" stroke-width="1.1"/>
<line x1="554.9" y1="494.7" x2="554.9" y2="497.8" stroke="#000" stroke-width="1.3" />
<line x1="552.6" y1="494.7" x2="557.2" y2="494.7" stroke="#000" stroke-width="1.5" />
<rect x="552.20" y="497.8" width="5.45" height="11.2" fill="#8c8c8c" stroke="#000" stroke-width="1.1"/>
<line x1="560.4" y1="492.1" x2="560.4" y2="493.8" stroke="#000" stroke-width="1.3" />
<line x1="558.1" y1="492.1" x2="562.7" y2="492.1" stroke="#000" stroke-width="1.5" />
<rect x="557.65" y="493.8" width="5.45" height="15.2" fill="#000" stroke="#000" stroke-width="1.1"/>
<line x1="570.7" y1="501.3" x2="570.7" y2="504.0" stroke="#000" stroke-width="1.3" />
<line x1="568.4" y1="501.3" x2="573.0" y2="501.3" stroke="#000" stroke-width="1.5" />
<rect x="567.95" y="504.0" width="5.45" height="5.0" fill="#fff" stroke="#000" stroke-width="1.1"/>
<line x1="576.1" y1="501.3" x2="576.1" y2="504.0" stroke="#000" stroke-width="1.3" />
<line x1="573.8" y1="501.3" x2="578.4" y2="501.3" stroke="#000" stroke-width="1.5" />
<rect x="573.40" y="504.0" width="5.45" height="5.0" fill="#dcdcdc" stroke="#000" stroke-width="1.1"/>
<line x1="581.6" y1="498.7" x2="581.6" y2="501.3" stroke="#000" stroke-width="1.3" />
<line x1="579.3" y1="498.7" x2="583.9" y2="498.7" stroke="#000" stroke-width="1.5" />
<rect x="578.85" y="501.3" width="5.45" height="7.7" fill="#8c8c8c" stroke="#000" stroke-width="1.1"/>
<line x1="587.0" y1="492.6" x2="587.0" y2="493.6" stroke="#000" stroke-width="1.3" />
<line x1="584.7" y1="492.6" x2="589.3" y2="492.6" stroke="#000" stroke-width="1.5" />
<rect x="584.30" y="493.6" width="5.45" height="15.4" fill="#000" stroke="#000" stroke-width="1.1"/>
<line x1="597.3" y1="499.5" x2="597.3" y2="502.4" stroke="#000" stroke-width="1.3" />
<line x1="595.0" y1="499.5" x2="599.6" y2="499.5" stroke="#000" stroke-width="1.5" />
<rect x="594.60" y="502.4" width="5.45" height="6.6" fill="#fff" stroke="#000" stroke-width="1.1"/>
<line x1="602.8" y1="503.0" x2="602.8" y2="504.3" stroke="#000" stroke-width="1.3" />
<line x1="600.5" y1="503.0" x2="605.1" y2="503.0" stroke="#000" stroke-width="1.5" />
<rect x="600.05" y="504.3" width="5.45" height="4.7" fill="#dcdcdc" stroke="#000" stroke-width="1.1"/>
<line x1="608.2" y1="498.4" x2="608.2" y2="499.7" stroke="#000" stroke-width="1.3" />
<line x1="605.9" y1="498.4" x2="610.5" y2="498.4" stroke="#000" stroke-width="1.5" />
<rect x="605.50" y="499.7" width="5.45" height="9.3" fill="#8c8c8c" stroke="#000" stroke-width="1.1"/>
<line x1="613.7" y1="489.5" x2="613.7" y2="491.8" stroke="#000" stroke-width="1.3" />
<line x1="611.4" y1="489.5" x2="616.0" y2="489.5" stroke="#000" stroke-width="1.5" />
<rect x="610.95" y="491.8" width="5.45" height="17.2" fill="#000" stroke="#000" stroke-width="1.1"/>
<line x1="624.0" y1="499.5" x2="624.0" y2="502.4" stroke="#000" stroke-width="1.3" />
<line x1="621.7" y1="499.5" x2="626.3" y2="499.5" stroke="#000" stroke-width="1.5" />
<rect x="621.25" y="502.4" width="5.45" height="6.6" fill="#fff" stroke="#000" stroke-width="1.1"/>
<line x1="629.4" y1="500.4" x2="629.4" y2="502.4" stroke="#000" stroke-width="1.3" />
<line x1="627.1" y1="500.4" x2="631.7" y2="500.4" stroke="#000" stroke-width="1.5" />
<rect x="626.70" y="502.4" width="5.45" height="6.6" fill="#dcdcdc" stroke="#000" stroke-width="1.1"/>
<line x1="634.9" y1="497.8" x2="634.9" y2="499.5" stroke="#000" stroke-width="1.3" />
<line x1="632.6" y1="497.8" x2="637.2" y2="497.8" stroke="#000" stroke-width="1.5" />
<rect x="632.15" y="499.5" width="5.45" height="9.5" fill="#8c8c8c" stroke="#000" stroke-width="1.1"/>
<line x1="640.3" y1="488.2" x2="640.3" y2="490.5" stroke="#000" stroke-width="1.3" />
<line x1="638.0" y1="488.2" x2="642.6" y2="488.2" stroke="#000" stroke-width="1.5" />
<rect x="637.60" y="490.5" width="5.45" height="18.5" fill="#000" stroke="#000" stroke-width="1.1"/>
<line x1="650.6" y1="495.8" x2="650.6" y2="500.3" stroke="#000" stroke-width="1.3" />
<line x1="648.3" y1="495.8" x2="652.9" y2="495.8" stroke="#000" stroke-width="1.5" />
<rect x="647.90" y="500.3" width="5.45" height="8.7" fill="#fff" stroke="#000" stroke-width="1.1"/>
<line x1="656.1" y1="501.0" x2="656.1" y2="502.3" stroke="#000" stroke-width="1.3" />
<line x1="653.8" y1="501.0" x2="658.4" y2="501.0" stroke="#000" stroke-width="1.5" />
<rect x="653.35" y="502.3" width="5.45" height="6.7" fill="#dcdcdc" stroke="#000" stroke-width="1.1"/>
<line x1="661.5" y1="489.8" x2="661.5" y2="491.8" stroke="#000" stroke-width="1.3" />
<line x1="659.2" y1="489.8" x2="663.8" y2="489.8" stroke="#000" stroke-width="1.5" />
<rect x="658.80" y="491.8" width="5.45" height="17.2" fill="#8c8c8c" stroke="#000" stroke-width="1.1"/>
<line x1="667.0" y1="466.6" x2="667.0" y2="471.5" stroke="#000" stroke-width="1.3" />
<line x1="664.7" y1="466.6" x2="669.3" y2="466.6" stroke="#000" stroke-width="1.5" />
<rect x="664.25" y="471.5" width="5.45" height="37.5" fill="#000" stroke="#000" stroke-width="1.1"/>
<line x1="677.3" y1="495.0" x2="677.3" y2="498.4" stroke="#000" stroke-width="1.3" />
<line x1="675.0" y1="495.0" x2="679.6" y2="495.0" stroke="#000" stroke-width="1.5" />
<rect x="674.55" y="498.4" width="5.45" height="10.6" fill="#fff" stroke="#000" stroke-width="1.1"/>
<line x1="682.7" y1="501.0" x2="682.7" y2="502.3" stroke="#000" stroke-width="1.3" />
<line x1="680.4" y1="501.0" x2="685.0" y2="501.0" stroke="#000" stroke-width="1.5" />
<rect x="680.00" y="502.3" width="5.45" height="6.7" fill="#dcdcdc" stroke="#000" stroke-width="1.1"/>
<line x1="688.2" y1="495.0" x2="688.2" y2="496.4" stroke="#000" stroke-width="1.3" />
<line x1="685.9" y1="495.0" x2="690.5" y2="495.0" stroke="#000" stroke-width="1.5" />
<rect x="685.45" y="496.4" width="5.45" height="12.6" fill="#8c8c8c" stroke="#000" stroke-width="1.1"/>
<line x1="693.6" y1="426.8" x2="693.6" y2="438.7" stroke="#000" stroke-width="1.3" />
<line x1="691.3" y1="426.8" x2="695.9" y2="426.8" stroke="#000" stroke-width="1.5" />
<rect x="690.90" y="438.7" width="5.45" height="70.3" fill="#000" stroke="#000" stroke-width="1.1"/>
<line x1="703.9" y1="471.5" x2="703.9" y2="482.5" stroke="#000" stroke-width="1.3" />
<line x1="701.6" y1="471.5" x2="706.2" y2="471.5" stroke="#000" stroke-width="1.5" />
<rect x="701.20" y="482.5" width="5.45" height="26.5" fill="#fff" stroke="#000" stroke-width="1.1"/>
<line x1="709.4" y1="498.4" x2="709.4" y2="500.3" stroke="#000" stroke-width="1.3" />
<line x1="707.1" y1="498.4" x2="711.7" y2="498.4" stroke="#000" stroke-width="1.5" />
<rect x="706.65" y="500.3" width="5.45" height="8.7" fill="#dcdcdc" stroke="#000" stroke-width="1.1"/>
<line x1="714.8" y1="483.8" x2="714.8" y2="485.8" stroke="#000" stroke-width="1.3" />
<line x1="712.5" y1="483.8" x2="717.1" y2="483.8" stroke="#000" stroke-width="1.5" />
<rect x="712.10" y="485.8" width="5.45" height="23.2" fill="#8c8c8c" stroke="#000" stroke-width="1.1"/>
<line x1="720.3" y1="365.8" x2="720.3" y2="379.1" stroke="#000" stroke-width="1.3" />
<line x1="718.0" y1="365.8" x2="722.6" y2="365.8" stroke="#000" stroke-width="1.5" />
<rect x="717.55" y="379.1" width="5.45" height="129.9" fill="#000" stroke="#000" stroke-width="1.1"/>
<line x1="730.6" y1="430.2" x2="730.6" y2="449.3" stroke="#000" stroke-width="1.3" />
<line x1="728.3" y1="430.2" x2="732.9" y2="430.2" stroke="#000" stroke-width="1.5" />
<rect x="727.85" y="449.3" width="5.45" height="59.7" fill="#fff" stroke="#000" stroke-width="1.1"/>
<line x1="736.0" y1="490.4" x2="736.0" y2="492.4" stroke="#000" stroke-width="1.3" />
<line x1="733.7" y1="490.4" x2="738.3" y2="490.4" stroke="#000" stroke-width="1.5" />
<rect x="733.30" y="492.4" width="5.45" height="16.6" fill="#dcdcdc" stroke="#000" stroke-width="1.1"/>
<line x1="741.5" y1="436.8" x2="741.5" y2="442.7" stroke="#000" stroke-width="1.3" />
<line x1="739.2" y1="436.8" x2="743.8" y2="436.8" stroke="#000" stroke-width="1.5" />
<rect x="738.75" y="442.7" width="5.45" height="66.3" fill="#8c8c8c" stroke="#000" stroke-width="1.1"/>
<line x1="746.9" y1="309.5" x2="746.9" y2="314.6" stroke="#000" stroke-width="1.3" />
<line x1="744.6" y1="309.5" x2="749.2" y2="309.5" stroke="#000" stroke-width="1.5" />
<rect x="744.20" y="314.6" width="5.45" height="194.4" fill="#000" stroke="#000" stroke-width="1.1"/>
<text x="553.7" y="519.2" font-size="10.3" font-weight="bold" text-anchor="end" fill="#000" transform="rotate(-45 553.7 519.2)" >Untreated</text>
<text x="580.3" y="519.2" font-size="10.3" font-weight="bold" text-anchor="end" fill="#000" transform="rotate(-45 580.3 519.2)" >DMSO</text>
<text x="607.0" y="519.2" font-size="10.3" font-weight="bold" text-anchor="end" fill="#000" transform="rotate(-45 607.0 519.2)" >0.1 µM Gefitinib</text>
<text x="633.6" y="519.2" font-size="10.3" font-weight="bold" text-anchor="end" fill="#000" transform="rotate(-45 633.6 519.2)" >1.0 µM Gefitinib</text>
<text x="660.3" y="519.2" font-size="10.3" font-weight="bold" text-anchor="end" fill="#000" transform="rotate(-45 660.3 519.2)" >5.0 µM Gefitinib</text>
<text x="686.9" y="519.2" font-size="10.3" font-weight="bold" text-anchor="end" fill="#000" transform="rotate(-45 686.9 519.2)" >10.0 µM Gefitinib</text>
<text x="713.6" y="519.2" font-size="10.3" font-weight="bold" text-anchor="end" fill="#000" transform="rotate(-45 713.6 519.2)" >20.0 µM Gefitinib</text>
<text x="740.2" y="519.2" font-size="10.3" font-weight="bold" text-anchor="end" fill="#000" transform="rotate(-45 740.2 519.2)" >30.0 µM Gefitinib</text>
<text x="693.2" y="426.6" font-size="11.5" font-weight="bold" text-anchor="middle" fill="#000" >**</text>
<text x="720.4" y="366.4" font-size="11" font-weight="bold" text-anchor="middle" fill="#000" >***</text>
<text x="747.4" y="308.6" font-size="11" font-weight="bold" text-anchor="middle" fill="#000" >***</text>
</svg>
</body></html>
